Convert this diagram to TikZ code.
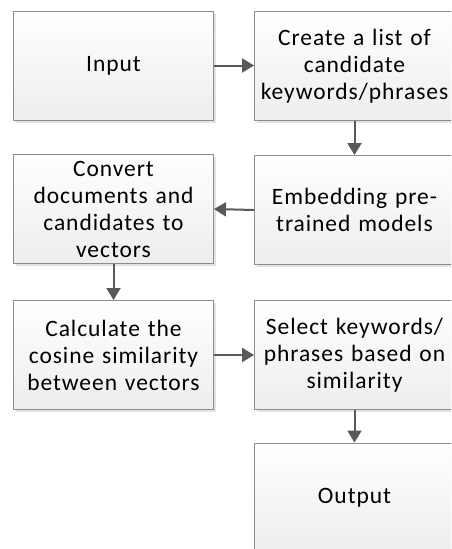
\documentclass[tikz,border=0pt]{standalone}
\usepackage{fontspec}
\setmainfont[LetterSpace=4]{Carlito}
\usetikzlibrary{arrows.meta,shadows}
\definecolor{boxborder}{HTML}{8C8C8C}
\definecolor{arrowcol}{HTML}{595959}
\begin{document}
\begin{tikzpicture}[x=1pt,y=-1pt,
  flowbox/.style={draw=boxborder, line width=0.9pt, rectangle,
    minimum width=200pt, minimum height=109pt, inner sep=0pt,
    align=center, text width=198pt,
    font=\fontsize{23.5}{27}\selectfont,
    shading=axis, top color=white, bottom color=black!7,
    drop shadow={shadow xshift=2.5pt, shadow yshift=-2.5pt, fill=black!18, opacity=0.6}},
  flowarrow/.style={draw=arrowcol, line width=2pt,
    -{Triangle[length=12pt,width=14pt]}}]
\useasboundingbox (0,0) rectangle (451,549);
\begin{scope}
\clip (0,0) rectangle (451,549);
\node[flowbox] (in) at (113.5,65.5) {Input};
\node[flowbox] (create) at (354.5,66) {Create a list of\\candidate\\keywords/phrases};
\node[flowbox] (embed) at (354.5,210) {Embedding pre-\\trained models};
\node[flowbox] (convert) at (113.5,209) {Convert\\documents and\\candidates to\\vectors};
\node[flowbox] (calc) at (113.5,355) {Calculate the\\cosine similarity\\between vectors};
\node[flowbox] (select) at (354.5,355) {Select keywords/\\phrases based on\\similarity};
\node[flowbox] (out) at (354.5,497.5) {Output};
\draw[flowarrow] (in.east) -- (create.west |- in.east);
\draw[flowarrow] (create.south) -- (embed.north);
\draw[flowarrow] (embed.west) -- (convert.east);
\draw[flowarrow] (convert.south) -- (calc.north);
\draw[flowarrow] (calc.east) -- (select.west);
\draw[flowarrow] (select.south) -- (out.north);
\end{scope}
\end{tikzpicture}
\end{document}
